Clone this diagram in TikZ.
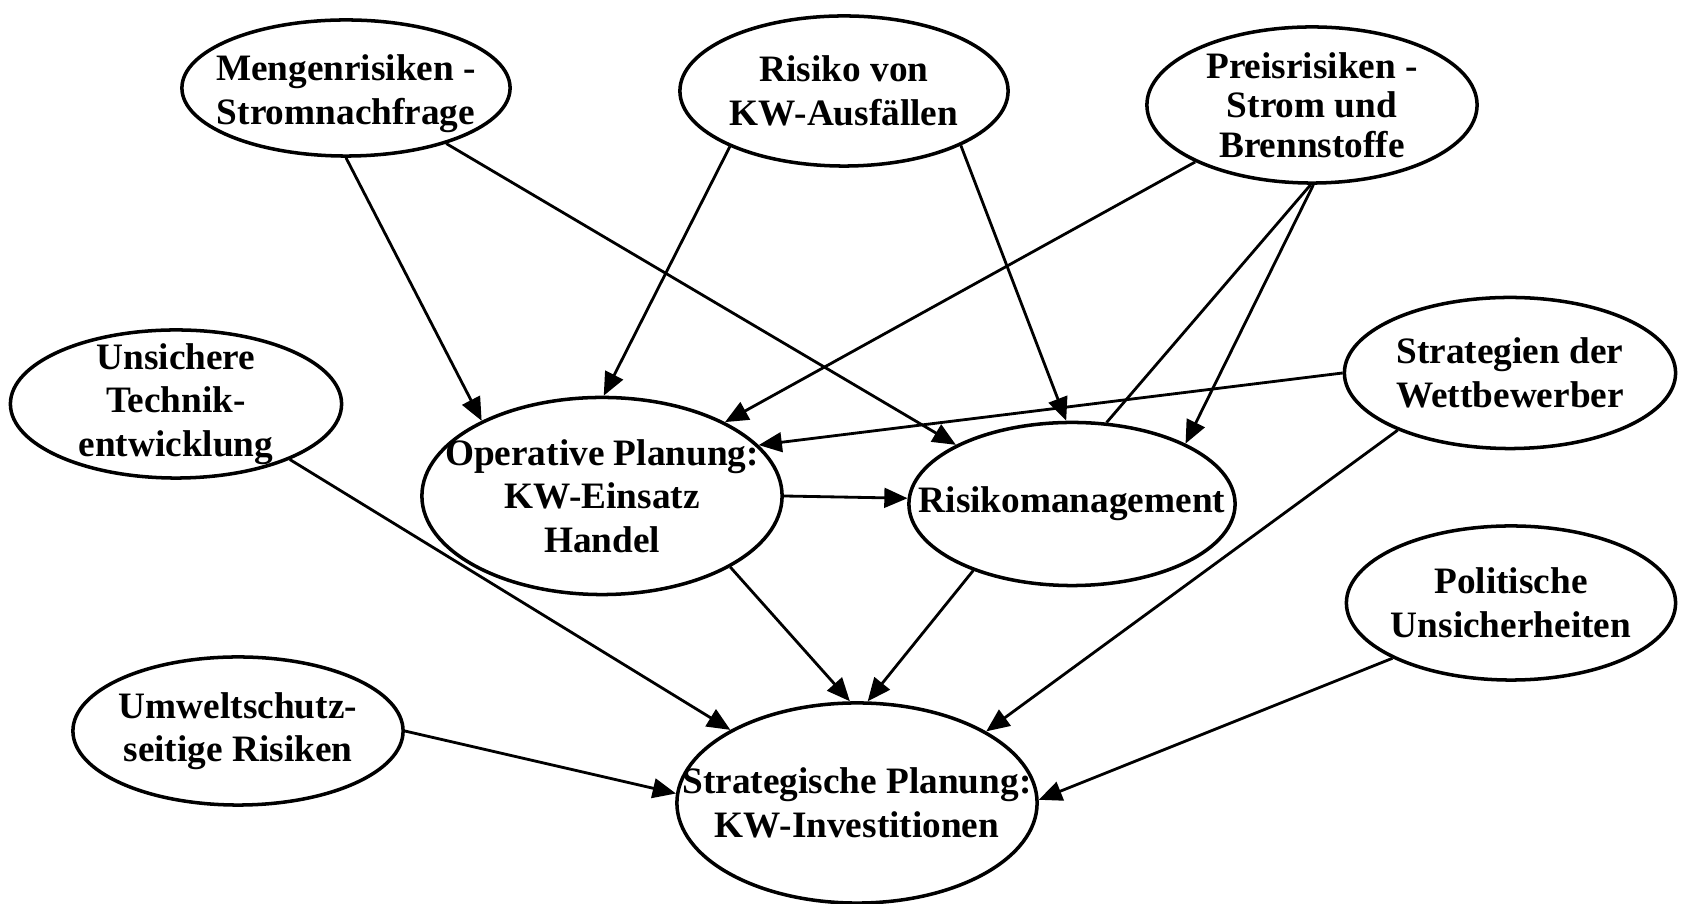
\documentclass[tikz,border=0pt]{standalone}
\usepackage{fontspec}
\setmainfont{Liberation Serif}
\usetikzlibrary{shapes.geometric, arrows.meta}

\tikzset{
  ell/.style={ellipse, draw, line width=1pt, inner sep=0pt},
  txt/.style={align=center, inner sep=0pt, font=\bfseries\fontsize{10.6}{12.4}\selectfont},
  arr/.style={-{Triangle[length=6.6pt,width=5.6pt]}, line width=0.8pt}
}

\begin{document}
\begin{tikzpicture}[x=0.01cm, y=-0.01cm]
        \useasboundingbox (0,0) rectangle (1684,904);

        % Draw nodes
        \node[ell, minimum width=3.28cm, minimum height=1.36cm, label={[txt, yshift=-1.7pt]center:{Mengenrisiken -\\Stromnachfrage}}] (meng) at (346,88) {};
        \node[ell, minimum width=3.28cm, minimum height=1.50cm, label={[txt]center:{Risiko von\\KW-Ausfällen}}] (kw) at (844,91) {};
        \node[ell, minimum width=3.30cm, minimum height=1.56cm, label={[txt, font=\bfseries\fontsize{10.6}{11.2}\selectfont]center:{Preisrisiken -\\Strom und\\Brennstoffe}}] (preis) at (1312,105) {};
        \node[ell, minimum width=3.31cm, minimum height=1.48cm, label={[txt]center:{Unsichere\\Technik-\\entwicklung}}] (tech) at (176,404) {};
        \node[ell, minimum width=3.31cm, minimum height=1.51cm, label={[txt]center:{Strategien der\\Wettbewerber}}] (strat) at (1510,373) {};
        \node[ell, minimum width=3.60cm, minimum height=1.97cm, label={[txt]center:{Operative Planung:\\KW-Einsatz\\Handel}}] (oper) at (602,496) {};
        \node[ell, minimum width=3.26cm, minimum height=1.63cm, label={[txt]center:{Risikomanagement}}] (rima) at (1072,504) {};
        \node[ell, minimum width=3.29cm, minimum height=1.54cm, label={[txt]center:{Politische\\Unsicherheiten}}] (pol) at (1511,603) {};
        \node[ell, minimum width=3.30cm, minimum height=1.48cm, label={[txt]center:{Umweltschutz-\\seitige Risiken}}] (umw) at (238,731) {};
        \node[ell, minimum width=3.60cm, minimum height=2.00cm, label={[txt]center:{Strategische Planung:\\KW-Investitionen}}] (sp) at (857,803) {};

        % Draw connections
        \draw[arr] (meng.270) -- (oper.148);
        \draw[arr] (meng.331) -- (rima.153);
        \draw[arr] (kw.206) -- (oper.89);
        \draw[arr] (kw.335) -- (rima.94);
        \draw[arr] (preis.206) -- (oper.31);
        \draw[arr] (preis.271) -- (rima.28);
        \draw[line width=0.8pt] (rima.67) -- (preis.269);
        \draw[arr] (strat.180) -- (oper.18);
        \draw[arr] (strat.207) -- (sp.29);
        \draw[arr] (tech.334) -- (sp.150);
        \draw[arr] (oper.0) -- (rima.178);
        \draw[arr] (oper.331) -- (sp.94);
        \draw[arr] (rima.214) -- (sp.84);
        \draw[arr] (pol.205) -- (sp.1);
        \draw[arr] (umw.0) -- (sp.177);
    \end{tikzpicture}
\end{document}
